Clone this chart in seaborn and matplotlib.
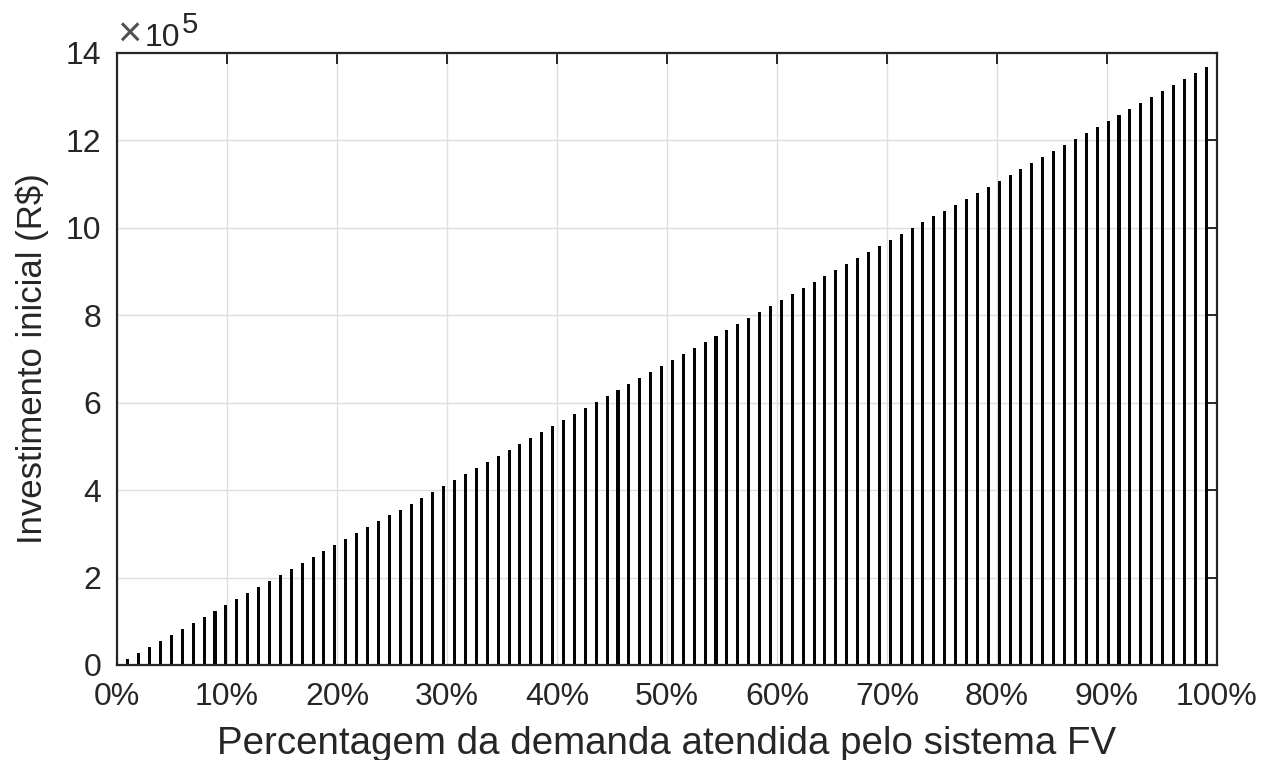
import numpy as np
import pandas as pd
import matplotlib
matplotlib.use("Agg")
import matplotlib.pyplot as plt
import seaborn as sns

# Percentage of demand met by the PV system (bar positions 1..100 -> 1%..100%)
percent = list(range(1, 101))
# Initial investment, in units of 10^5 R$
investment_e5 = [
    0.137, 0.274, 0.410, 0.547, 0.684, 0.821, 0.958, 1.094, 1.231, 1.368,
    1.505, 1.642, 1.778, 1.915, 2.052, 2.189, 2.326, 2.462, 2.599, 2.736,
    2.873, 3.010, 3.146, 3.283, 3.420, 3.557, 3.694, 3.830, 3.967, 4.104,
    4.241, 4.378, 4.514, 4.651, 4.788, 4.925, 5.062, 5.198, 5.335, 5.472,
    5.609, 5.746, 5.882, 6.019, 6.156, 6.293, 6.430, 6.566, 6.703, 6.840,
    6.977, 7.114, 7.250, 7.387, 7.524, 7.661, 7.798, 7.934, 8.071, 8.208,
    8.345, 8.482, 8.618, 8.755, 8.892, 9.029, 9.166, 9.302, 9.439, 9.576,
    9.713, 9.850, 9.986, 10.123, 10.260, 10.397, 10.534, 10.670, 10.807, 10.944,
    11.081, 11.218, 11.354, 11.491, 11.628, 11.765, 11.902, 12.038, 12.175, 12.312,
    12.449, 12.586, 12.722, 12.859, 12.996, 13.133, 13.270, 13.406, 13.543, 13.680,
]
x_tick_labels = ["0%", "10%", "20%", "30%", "40%", "50%", "60%", "70%", "80%", "90%", "100%"]
y_tick_labels = ["0", "2", "4", "6", "8", "10", "12", "14"]

df = pd.DataFrame({"pct": percent, "inv": investment_e5})

sns.set_theme(style="white")
plt.rcParams["font.family"] = ["Liberation Sans", "DejaVu Sans"]

TXT = "#262626"
W, H = 1264, 760

fig = plt.figure(figsize=(12.64, 7.6), dpi=100)
ax = fig.add_axes([117 / W, 1 - 665 / H, 1100 / W, 612 / H])

sns.barplot(data=df, x="pct", y="inv", native_scale=True, width=0.28,
            color="#050505", saturation=1, linewidth=0, ax=ax)

ax.set_xlim(0, 101)
ax.set_ylim(0, 14)
ax.set_xticks(np.linspace(0, 101, len(x_tick_labels)))
ax.set_xticklabels(x_tick_labels)
ax.set_yticks([float(v) for v in y_tick_labels])
ax.set_yticklabels(y_tick_labels)

ax.set_axisbelow(True)
ax.grid(True, color="#dedede", linewidth=1.0)

for s in ax.spines.values():
    s.set_visible(True)
    s.set_color(TXT)
    s.set_linewidth(1.6)

ax.tick_params(axis="both", which="both", direction="in", length=8, width=1.4,
               color=TXT, top=True, right=True, labelsize=23,
               labelcolor=TXT)
ax.tick_params(axis="x", pad=12)
ax.tick_params(axis="y", pad=11.5)

ax.set_xlabel("Percentagem da demanda atendida pelo sistema FV", fontsize=27.7, color=TXT)
ax.xaxis.set_label_coords(0.5, -0.1)
ax.set_ylabel("Investimento inicial (R$)", fontsize=25, color=TXT)
ax.yaxis.set_label_coords(-0.062, 0.5)

# exponent label (x10^5) at the top left of the axes
fig.text(117 / W, 1 - 47 / H, "×", fontsize=30, color="#505050",
         ha="left", va="baseline")
fig.text(145 / W, 1 - 46 / H, "10", fontsize=23, color=TXT,
         ha="left", va="baseline")
fig.text(182 / W, 1 - 33 / H, "5", fontsize=21, color=TXT,
         ha="left", va="baseline")

fig.savefig("out.png", dpi=100)
